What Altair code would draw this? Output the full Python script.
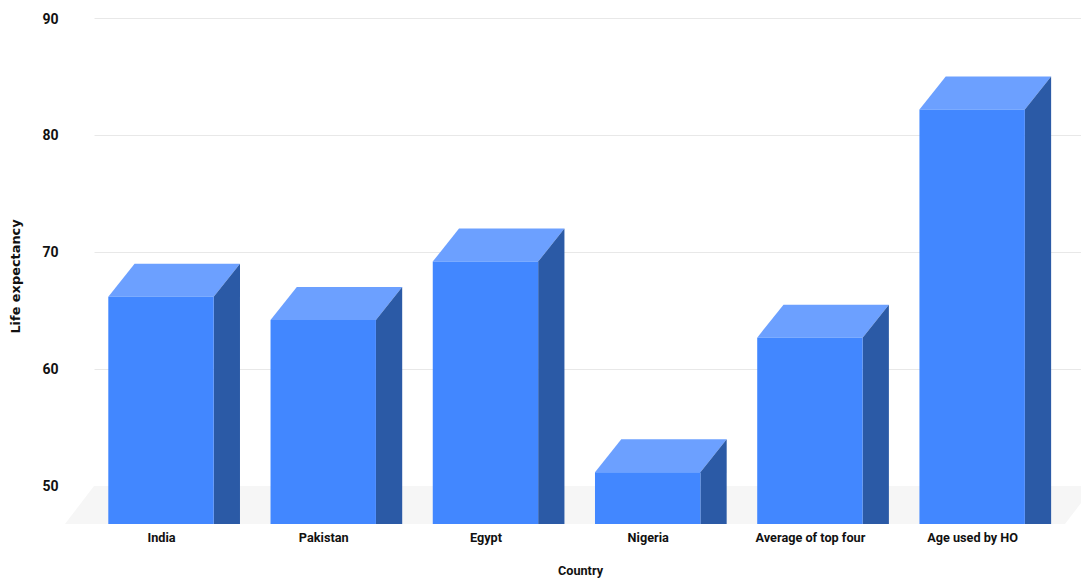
import json

import altair as alt
import pandas as pd

categories = ["India", "Pakistan", "Egypt", "Nigeria", "Average of top four", "Age used by HO"]
life_expectancy = [69, 67, 72, 54, 65.5, 85]

# Geometry of the extruded columns, in axis units.
FLOOR = 46.75
DEPTH_Y = 2.82
DEPTH_X = 0.162
BAR_WIDTH = 0.6497
X_DOMAIN = [-0.413, 5.671]
FLOOR_LEFT = -0.5917
FLOOR_RIGHT = 5.751

FRONT_COLOR = "#4287ff"
TOP_COLOR = "#6ca0ff"
SIDE_COLOR = "#2b5aa6"
TEXT_COLOR = "#111111"

front_rows, top_rows, side_rows = [], [], []
for i, (name, value) in enumerate(zip(categories, life_expectancy)):
    left = i - BAR_WIDTH / 2
    right = i + BAR_WIDTH / 2
    front_top = value - DEPTH_Y
    front_rows.append({"name": name, "x": left, "x2": right, "y": front_top, "y2": FLOOR})
    top_rows += [
        {"name": name, "x": left, "y": front_top, "y2": front_top},
        {"name": name, "x": left + DEPTH_X, "y": front_top, "y2": value},
        {"name": name, "x": right, "y": front_top, "y2": value},
        {"name": name, "x": right + DEPTH_X, "y": value, "y2": value},
    ]
    side_rows += [
        {"name": name, "x": right, "y": FLOOR, "y2": front_top},
        {"name": name, "x": right + DEPTH_X, "y": FLOOR, "y2": value},
    ]

# The floor is a trapezoid running from the front plane back to the 50 gridline.
floor_inset = X_DOMAIN[0] - FLOOR_LEFT
floor_rows = [
    {"x": FLOOR_LEFT, "y": FLOOR, "y2": FLOOR},
    {"x": X_DOMAIN[0], "y": FLOOR, "y2": 50},
    {"x": FLOOR_RIGHT - floor_inset, "y": FLOOR, "y2": 50},
    {"x": FLOOR_RIGHT, "y": 50, "y2": 50},
]

x_scale = alt.Scale(domain=X_DOMAIN, nice=False, zero=False)
y_scale = alt.Scale(domain=[FLOOR, 90], nice=False, zero=False)

x_axis = alt.Axis(
    title="Country",
    values=list(range(len(categories))),
    labelExpr=f"{json.dumps(categories)}[round(datum.value)]",
    grid=False,
    domain=False,
    ticks=False,
    labelAngle=0,
    labelPadding=7,
    labelFont="Roboto",
    labelFontWeight="bold",
    labelFontSize=12.7,
    labelColor=TEXT_COLOR,
    titleFont="Roboto",
    titleFontWeight="bold",
    titleFontSize=12.7,
    titleColor=TEXT_COLOR,
    titleX=486,
    titleY=50,
    titleBaseline="alphabetic",
)
y_axis = alt.Axis(
    title="Life expectancy",
    values=[50, 60, 70, 80, 90],
    grid=True,
    gridColor="#e8e8e8",
    gridWidth=1,
    domain=False,
    ticks=False,
    labelPadding=36,
    labelOffset=1,
    labelFont="Roboto",
    labelFontWeight="bold",
    labelFontSize=14,
    labelColor=TEXT_COLOR,
    titleFont="DejaVu Sans",
    titleFontWeight="bold",
    titleFontSize=12.9,
    titleColor=TEXT_COLOR,
    titleX=-72,
    titleY=258,
)

floor = (
    alt.Chart(pd.DataFrame(floor_rows))
    .mark_area(color="#f6f6f6", orient="vertical")
    .encode(
        x=alt.X("x:Q", scale=x_scale, axis=x_axis),
        y=alt.Y("y:Q", scale=y_scale, axis=y_axis),
        y2="y2:Q",
    )
)
tops = (
    alt.Chart(pd.DataFrame(top_rows))
    .mark_area(color=TOP_COLOR, orient="vertical")
    .encode(x=alt.X("x:Q", scale=x_scale), y=alt.Y("y:Q", scale=y_scale), y2="y2:Q", detail="name:N")
)
sides = (
    alt.Chart(pd.DataFrame(side_rows))
    .mark_area(color=SIDE_COLOR, orient="vertical")
    .encode(x=alt.X("x:Q", scale=x_scale), y=alt.Y("y:Q", scale=y_scale), y2="y2:Q", detail="name:N")
)
fronts = (
    alt.Chart(pd.DataFrame(front_rows))
    .mark_rect(color=FRONT_COLOR)
    .encode(
        x=alt.X("x:Q", scale=x_scale),
        x2="x2:Q",
        y=alt.Y("y:Q", scale=y_scale),
        y2="y2:Q",
    )
)

chart = (
    alt.layer(floor, tops, sides, fronts)
    .properties(
        width=987,
        height=506,
        background="white",
        autosize=alt.AutoSizeParams(type="none"),
        padding={"left": 94, "top": 18, "right": 0, "bottom": 54},
    )
    .configure_view(stroke=None)
)

chart.save("out.html", embed_options={"renderer": "svg", "actions": False})
